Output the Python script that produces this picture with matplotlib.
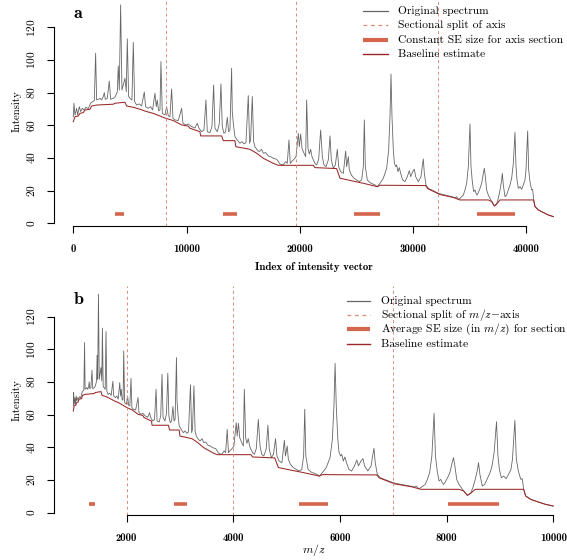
import numpy as np
import matplotlib
matplotlib.use("Agg")
import matplotlib.pyplot as plt
from matplotlib.lines import Line2D

plt.rcParams['font.family'] = ['cmr10', 'DejaVu Serif']
plt.rcParams['mathtext.fontset'] = 'cm'
plt.rcParams['axes.formatter.use_mathtext'] = True

# --- data (index of intensity vector, intensity) ---
spectrum_pts = [
    (0, 65.3), (59, 73.5), (147, 66.3), (294, 70.4), (383, 66.3), (530, 71.4),
    (647, 68.4), (795, 70.4), (942, 69.4), (1118, 71.0), (1324, 70.2), (1530, 73.5),
    (1707, 74.5), (1854, 75.1), (1972, 104.1), (2060, 75.5), (2207, 75.9), (2354, 76.5),
    (2502, 75.5), (2649, 77.6), (2737, 80.0), (2825, 75.9), (3002, 76.5), (3178, 87.1),
    (3296, 75.9), (3532, 76.5), (3708, 77.6), (3885, 80.6), (3973, 96.3), (4061, 81.6),
    (4179, 133.7), (4297, 81.6), (4415, 84.7), (4562, 88.8), (4679, 80.6), (4768, 112.9),
    (4885, 77.6), (5003, 76.5), (5180, 75.5), (5297, 110.8), (5415, 74.5), (5592, 72.4),
    (5827, 73.1), (6033, 71.8), (6269, 80.4), (6386, 71.4), (6622, 70.4), (6828, 71.4),
    (7004, 69.4), (7210, 79.6), (7328, 71.4), (7416, 75.5), (7534, 68.8), (7652, 69.4),
    (7740, 99.0), (7858, 67.3), (8093, 66.3), (8240, 71.4), (8388, 65.7), (8535, 65.3),
    (8682, 82.2), (8800, 64.3), (8976, 63.3), (9270, 62.9), (9565, 70.4), (9682, 61.2),
    (9947, 60.2), (10153, 60.8), (10448, 59.2), (10742, 58.4), (10948, 61.2), (11095, 58.2),
    (11331, 56.1), (11537, 57.1), (11713, 75.5), (11831, 56.1), (12066, 55.5), (12243, 59.2),
    (12390, 84.7), (12508, 58.2), (12714, 56.1), (12890, 60.8), (13038, 85.3), (13155, 59.2),
    (13302, 55.1), (13450, 56.1), (13597, 64.9), (13714, 56.1), (13832, 57.1), (13979, 94.9),
    (14038, 68.4), (14156, 59.2), (14273, 53.1), (14480, 51.0), (14715, 49.0), (14892, 50.0),
    (15068, 48.6), (15245, 49.4), (15451, 78.2), (15568, 49.0), (15657, 51.0), (15804, 77.6),
    (15922, 50.0), (16039, 46.9), (16245, 44.9), (16422, 43.9), (16628, 45.3), (16775, 42.9),
    (16981, 43.3), (17217, 41.2), (17423, 40.8), (17658, 39.8), (17952, 39.2), (18247, 36.3),
    (18541, 35.7), (18747, 37.8), (18894, 36.7), (19042, 51.0), (19159, 36.7), (19282, 37.8),
    (19488, 39.2), (19665, 40.8), (19871, 55.1), (19959, 46.9), (20077, 54.7), (20194, 45.9),
    (20371, 42.9), (20518, 40.8), (20606, 75.5), (20724, 45.9), (20842, 42.4), (20960, 45.3),
    (21077, 40.8), (21195, 38.8), (21342, 36.7), (21489, 35.7), (21666, 39.2), (21842, 57.1),
    (21990, 40.8), (22137, 35.7), (22313, 34.7), (22519, 38.8), (22667, 53.5), (22784, 38.8),
    (22961, 33.7), (23137, 35.7), (23314, 45.3), (23432, 34.7), (23608, 31.6), (23844, 30.6),
    (24050, 44.3), (24138, 34.7), (24285, 40.8), (24373, 32.7), (24550, 29.6), (24785, 27.6),
    (25021, 26.5), (25256, 25.5), (25462, 26.5), (25610, 34.7), (25698, 63.3), (25786, 34.7),
    (25963, 26.5), (26198, 24.9), (26434, 24.1), (26640, 23.5), (26846, 22.4), (27081, 24.5),
    (27376, 27.6), (27670, 33.7), (27846, 44.9), (27964, 65.3), (28052, 91.4), (28141, 65.3),
    (28258, 44.9), (28347, 37.1), (28464, 34.7), (28553, 35.7), (28670, 31.6), (28788, 34.1),
    (28906, 30.6), (29082, 26.5), (29288, 25.5), (29494, 28.6), (29671, 32.2), (29789, 28.6),
    (29965, 31.6), (30112, 33.1), (30230, 28.6), (30465, 25.5), (30701, 28.6), (30848, 36.7),
    (30907, 39.4), (30996, 30.6), (31143, 23.5), (31349, 21.4), (31643, 20.4), (31937, 19.4),
    (32232, 18.4), (32526, 17.8), (32820, 17.3), (33114, 16.8), (33409, 16.3), (33703, 15.7),
    (33851, 16.3), (33998, 14.7), (34145, 15.3), (34293, 16.3), (34440, 17.3), (34587, 20.4),
    (34734, 24.5), (34881, 34.7), (35028, 60.8), (35117, 34.7), (35234, 25.5), (35352, 19.4),
    (35470, 20.4), (35558, 18.4), (35646, 17.3), (35764, 18.8), (35911, 21.4), (36058, 24.5),
    (36206, 30.6), (36294, 33.7), (36382, 28.6), (36500, 20.4), (36647, 17.3), (36794, 15.3),
    (36941, 13.3), (37177, 10.6), (37383, 11.8), (37530, 15.3), (37677, 20.4), (37824, 26.5),
    (37883, 30.6), (37971, 23.5), (38119, 16.3), (38266, 17.3), (38413, 20.4), (38560, 23.5),
    (38707, 27.6), (38854, 36.7), (39001, 55.7), (39090, 34.7), (39178, 26.5), (39296, 21.4),
    (39443, 22.4), (39590, 20.8), (39737, 23.5), (39884, 26.5), (39973, 32.7), (40120, 56.5),
    (40208, 32.7), (40326, 25.5), (40473, 20.4), (40561, 20.8), (40649, 14.3), (40767, 10.2),
    (41062, 8.2), (41356, 7.1), (41650, 6.1), (41944, 5.1), (42386, 4.1),
]

baseline_pts = [
    (0, 62.2), (150, 65.3), (440, 65.7), (590, 67.3), (880, 67.8), (1030, 69.4),
    (1470, 69.8), (1620, 71.8), (2060, 72.4), (3530, 72.9), (3680, 73.5), (4560, 74.1),
    (4710, 71.8), (5300, 71.0), (5890, 69.8), (6470, 68.4), (7060, 67.3), (7650, 65.7),
    (8150, 64.3), (8830, 62.9), (9570, 60.2), (10150, 59.5), (10300, 58.2), (11180, 56.1),
    (11250, 53.5), (13100, 53.5), (13240, 50.6), (14270, 50.6), (14350, 46.9), (15600, 45.3),
    (16190, 42.9), (16780, 39.8), (17660, 36.7), (18100, 35.5), (21200, 35.5), (21340, 34.1),
    (23250, 33.5), (23550, 27.6), (25610, 24.5), (26850, 22.4), (27080, 23.3), (31100, 23.1),
    (31300, 21.2), (32380, 17.6), (33560, 15.8), (34140, 14.3), (36650, 14.3), (36950, 13.3),
    (37180, 10.6), (37380, 11.8), (37680, 14.3), (40650, 14.3), (40770, 10.2), (41060, 8.2),
    (41360, 7.1), (41650, 6.1), (41940, 5.1), (42390, 4.1),
]

# section splits and structuring element bars
split_idx = [8160, 19640, 32230]
split_mz = [2000, 4000, 7000]
se_idx = [(3680, 4480), (13240, 14480), (24790, 27080), (35670, 38990)]
se_mz = [(1294, 1407), (2888, 3126), (5238, 5782), (8031, 8984)]
se_level = [5.5, 5.2]

# index -> m/z calibration (TOF like, read from the split positions)
mz_start = 1000
idx_per_sqrt_mz = 620

legend_a = ["Original spectrum", "Sectional split of axis",
            "Constant SE size for axis section", "Baseline estimate"]
legend_b = ["Original spectrum", r"Sectional split of $m/z$$-$axis",
            r"Average SE size (in $m/z$) for section", "Baseline estimate"]

c_spec = '#666666'
c_split = '#E08A76'
c_se = '#D4664D'
c_base = '#9A2828'

W, H = 567, 560
fig = plt.figure(figsize=(W / 100, H / 100), dpi=100)


def box(l, t, r, b):
    return [l / W, 1 - b / H, (r - l) / W, (b - t) / H]


def fx(x):
    return x / W


def fy(y):
    return 1 - y / H


def to_mz(i):
    return (np.asarray(i, float) / idx_per_sqrt_mz + np.sqrt(mz_start)) ** 2


sp = np.array(spectrum_pts, float)
bl = np.array(baseline_pts, float)

ax_a = fig.add_axes(box(54, 0, 560, 226))
ax_b = fig.add_axes(box(54, 286, 560, 515))

for ax, xs, xb, splits, ses, lev in [
        (ax_a, sp[:, 0], bl[:, 0], split_idx, se_idx, se_level[0]),
        (ax_b, to_mz(sp[:, 0]), to_mz(bl[:, 0]), split_mz, se_mz, se_level[1])]:
    ax.plot(xs, sp[:, 1], color=c_spec, lw=0.6)
    ax.plot(xb, bl[:, 1], color=c_base, lw=0.75)
    for s in splits:
        ax.axvline(s, color=c_split, lw=0.7, ls=(0, (3, 3)))
    for a, b in ses:
        ax.plot([a, b], [lev, lev], color=c_se, lw=2.6, solid_capstyle='butt')
    for s in ['top', 'right']:
        ax.spines[s].set_visible(False)
    ax.spines['left'].set_bounds(0, 120)
    ax.set_yticks([0, 20, 40, 60, 80, 100, 120])
    ax.tick_params(length=5, width=0.8, direction='out')
    ax.tick_params(axis='y', pad=7)
    ax.tick_params(axis='x', pad=8)
    for lab in ax.get_yticklabels():
        lab.set_rotation(90)
        lab.set_va('center')
        lab.set_fontsize(8.2)
    ax.set_facecolor('none')

ax_a.set_xlim(-1704, 42976)
ax_a.set_ylim(-1.65, 136.7)
ax_a.set_xticks([0, 10000, 20000, 30000, 40000])
ax_a.spines['bottom'].set_bounds(0, 40000)

ax_b.set_xlim(638, 10126)
ax_b.set_ylim(-1.41, 138.7)
ax_b.set_xticks([2000, 4000, 6000, 8000, 10000])
ax_b.spines['bottom'].set_bounds(2000, 10000)

for ax in [ax_a, ax_b]:
    ax.set_xticklabels([str(int(t)) for t in ax.get_xticks()],
                       family='cmb10', fontsize=7.8)

# axis labels
fig.text(fx(314), fy(267), "Index of intensity vector", family='cmb10',
         fontsize=7.8, ha='center', va='center')
fig.text(fx(314), fy(550), r"$m/z$", fontsize=8.5, ha='center', va='center')
fig.text(fx(17), fy(111), "Intensity", fontsize=7.8, rotation=90,
         ha='center', va='center')
fig.text(fx(17), fy(400), "Intensity", fontsize=7.8, rotation=90,
         ha='center', va='center')
fig.text(fx(74), fy(14), "a", family='cmb10', fontsize=13, ha='left', va='center')
fig.text(fx(74), fy(300), "b", family='cmb10', fontsize=13, ha='left', va='center')

# legends drawn by hand
styles = [dict(color=c_spec, lw=0.9),
          dict(color=c_split, lw=0.9, ls=(0, (3, 3))),
          dict(color=c_se, lw=3.0, solid_capstyle='butt'),
          dict(color=c_base, lw=1.0)]
for labels, x0, x1, xt, rows in [
        (legend_a, 363, 388, 398, [10.7, 24.7, 40, 54]),
        (legend_b, 347, 370, 381, [300.7, 315, 329.3, 344.3])]:
    for lab, st, y in zip(labels, styles, rows):
        fig.add_artist(Line2D([fx(x0), fx(x1)], [fy(y), fy(y)], **st))
        fig.text(fx(xt), fy(y), lab, fontsize=8.3, ha='left', va='center')

fig.savefig("out.png", dpi=100)
